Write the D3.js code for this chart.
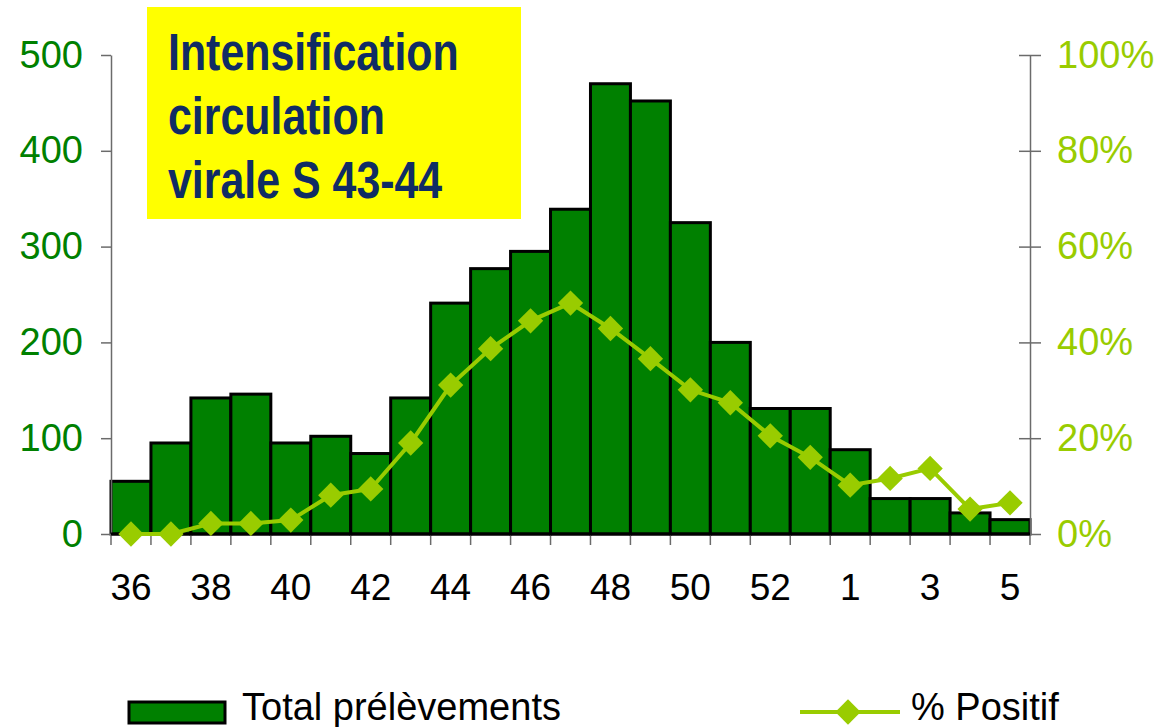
<!DOCTYPE html>
<html>
<head>
<meta charset="utf-8">
<script src="https://cdn.jsdelivr.net/npm/d3@7"></script>
<style>
  html, body { margin: 0; padding: 0; background: #fff; }
  svg { display: block; }
</style>
</head>
<body>
<svg id="chart" width="1171" height="727"></svg>
<script>
// ISO weeks of the season (2009 had 53 weeks)
const weeks = ["36","37","38","39","40","41","42","43","44","45","46","47","48","49","50","51","52","53","1","2","3","4","5"];
// Total samples per week
const totalSamples = [55, 95, 142, 146, 95, 102, 84, 142, 241, 277, 295, 339, 470, 452, 325, 200, 131, 131, 88, 37, 37, 22, 15];
// Share of positive samples (%)
const pctPositive = [0, 0, 2.2, 2.2, 2.9, 8.1, 9.4, 19.0, 31.1, 38.7, 44.5, 48.2, 42.9, 36.6, 30.1, 27.4, 20.5, 16.0, 10.2, 11.6, 13.7, 5.2, 6.5];
const leftTicks = [0, 100, 200, 300, 400, 500];
const rightTicks = [0, 20, 40, 60, 80, 100];
const shownWeeks = ["36","38","40","42","44","46","48","50","52","1","3","5"];
const titleLines = ["Intensification", "circulation", "virale S 43-44"];

const barFill = "#008000", lineColor = "#99cc00", axisGray = "#6b6b6b";
const font = "'Liberation Sans', Arial, sans-serif";

const svg = d3.select("#chart");
const m = { left: 111, right: 1030, top: 55, bottom: 534 };

const x = d3.scaleBand().domain(weeks).range([m.left, m.right]).padding(0);
const yL = d3.scaleLinear().domain([0, 500]).range([m.bottom, m.top]);
const yR = d3.scaleLinear().domain([0, 100]).range([m.bottom, m.top]);

// Bars
svg.append("g").selectAll("rect").data(weeks).join("rect")
  .attr("x", d => x(d))
  .attr("y", (d, i) => yL(totalSamples[i]))
  .attr("width", x.bandwidth())
  .attr("height", (d, i) => yL(0) - yL(totalSamples[i]))
  .attr("fill", barFill)
  .attr("stroke", "#000")
  .attr("stroke-width", 3);

// Left axis
const gL = svg.append("g").attr("transform", `translate(${m.left},0)`)
  .call(d3.axisLeft(yL).tickValues(leftTicks).tickSize(10).tickPadding(18).tickSizeOuter(0));
gL.select(".domain").attr("stroke", axisGray).attr("stroke-width", 1.5);
gL.selectAll(".tick line").attr("stroke", axisGray).attr("stroke-width", 1.5);
gL.selectAll(".tick text").attr("fill", barFill).attr("font-family", font).attr("font-size", 38);

// Right axis (ticks cross the axis line)
const gR = svg.append("g").attr("transform", `translate(${m.right},0)`)
  .call(d3.axisRight(yR).tickValues(rightTicks).tickSize(11).tickPadding(16).tickSizeOuter(0)
    .tickFormat(d => d + "%"));
gR.select(".domain").attr("stroke", axisGray).attr("stroke-width", 1.5);
gR.selectAll(".tick line").attr("x1", -11).attr("stroke", axisGray).attr("stroke-width", 1.5);
gR.selectAll(".tick text").attr("fill", lineColor).attr("font-family", font).attr("font-size", 38);

// Bottom axis: tick marks on band boundaries, labels on every other week
const gB = svg.append("g").attr("transform", `translate(0,${m.bottom})`);
const bounds = weeks.map(d => x(d)).concat([m.right]);
gB.selectAll("line.tk").data(bounds).join("line").attr("class", "tk")
  .attr("x1", d => d).attr("x2", d => d).attr("y1", 0).attr("y2", 11)
  .attr("stroke", axisGray).attr("stroke-width", 1.5);
gB.append("line").attr("x1", m.left).attr("x2", m.right).attr("y1", 0).attr("y2", 0)
  .attr("stroke", "#000").attr("stroke-width", 3);
gB.selectAll("text").data(shownWeeks).join("text")
  .attr("x", d => x(d) + x.bandwidth() / 2)
  .attr("y", 66)
  .attr("text-anchor", "middle")
  .attr("font-family", font).attr("font-size", 37).attr("fill", "#000")
  .text(d => d);

// Positive share line with diamond markers
const line = d3.line()
  .x((d, i) => x(weeks[i]) + x.bandwidth() / 2)
  .y(d => yR(d));
svg.append("path").datum(pctPositive)
  .attr("d", line).attr("fill", "none")
  .attr("stroke", lineColor).attr("stroke-width", 4);
const diamond = d3.symbol().type(d3.symbolSquare).size(320);
svg.append("g").selectAll("path").data(pctPositive).join("path")
  .attr("d", diamond)
  .attr("transform", (d, i) => `translate(${x(weeks[i]) + x.bandwidth() / 2},${yR(d)}) rotate(45)`)
  .attr("fill", lineColor);

// Annotation box with a condensed bold heading
svg.append("rect").attr("x", 147).attr("y", 7).attr("width", 374).attr("height", 212).attr("fill", "#ffff00");
svg.append("g").attr("transform", "translate(168,0) scale(0.825,1)")
  .selectAll("text").data(titleLines).join("text")
  .attr("x", 0).attr("y", (d, i) => 70 + i * 64)
  .attr("font-family", font)
  .attr("font-weight", "bold").attr("font-size", 52).attr("fill", "#102c64")
  .text(d => d);

// Legend
const lg = svg.append("g");
lg.append("rect").attr("x", 129).attr("y", 702).attr("width", 96).attr("height", 21)
  .attr("fill", barFill).attr("stroke", "#000").attr("stroke-width", 3);
lg.append("text").attr("x", 242).attr("y", 720).attr("font-family", font).attr("font-size", 38)
  .attr("fill", "#000").text("Total prélèvements");
lg.append("line").attr("x1", 800).attr("x2", 900).attr("y1", 712).attr("y2", 712)
  .attr("stroke", lineColor).attr("stroke-width", 4);
lg.append("path").attr("d", diamond).attr("transform", "translate(848,712) rotate(45)").attr("fill", lineColor);
lg.append("text").attr("x", 911).attr("y", 720).attr("font-family", font).attr("font-size", 38)
  .attr("fill", "#000").text("% Positif");
</script>
</body>
</html>
